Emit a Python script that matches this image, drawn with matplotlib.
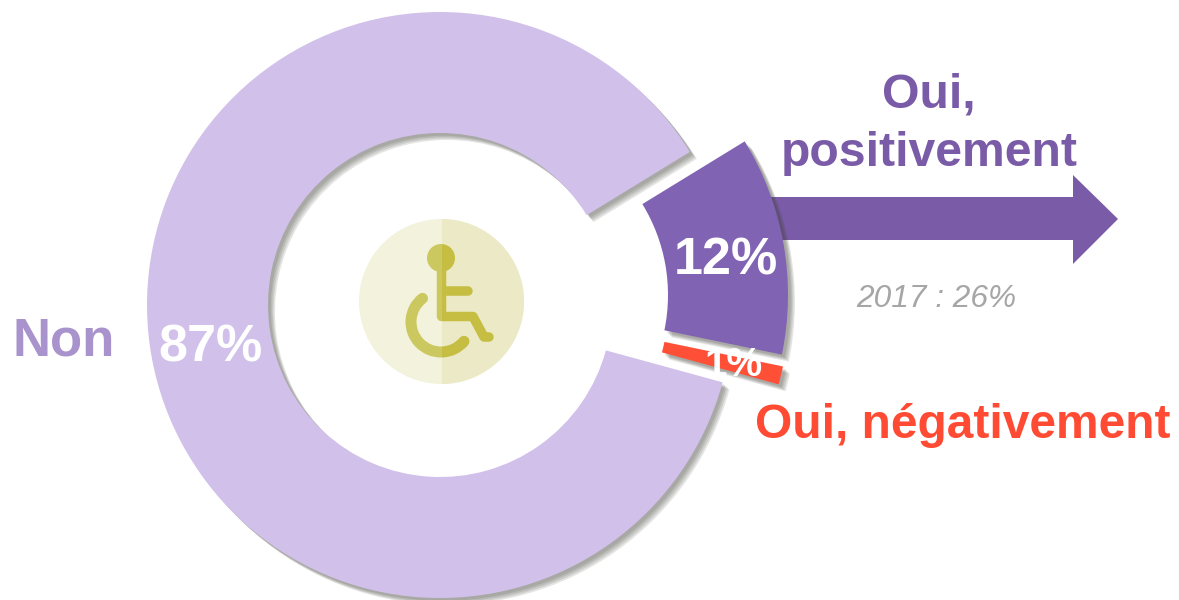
import matplotlib
matplotlib.use("Agg")
import matplotlib.pyplot as plt
import matplotlib.patheffects as pe
from matplotlib.patches import Wedge, Circle, Polygon, Rectangle, Arc

plt.rcParams['font.family'] = ['Liberation Sans', 'DejaVu Sans']

# donut values, in percent
labels = ["Non", "Oui, négativement", "Oui, positivement"]
shares = [87, 1, 12]
share_text = ["87%", "1%", "12%"]
colors = ["#d1c1ea", "#ff4f36", "#8163b3"]
note = "2017 : 26%"

# slices are pulled apart, so each has its own centre
centers = [(440, 305), (496, 307), (494, 295)]
r_outer = [293, 293, 294]
r_inner = [172, 172, 174]
start_angle = 31.5

fig = plt.figure(figsize=(11.79, 6.0), dpi=100)
ax = fig.add_axes([0, 0, 1, 1])
ax.set_xlim(0, 1179)
ax.set_ylim(600, 0)
ax.axis("off")


def soft_shadow():
    return [pe.SimplePatchShadow(offset=(o, -o), shadow_rgbFace="#44443a", alpha=0.14) for o in (5, 4, 3, 2)] + [pe.Normal()]


# arrow behind the purple slice
arrow = Polygon([(760, 197), (1073, 197), (1073, 175), (1118, 219), (1073, 264), (1073, 240), (760, 240)],
                closed=True, fc="#7a5ba8", ec="none", zorder=1)
ax.add_patch(arrow)

# the y axis is flipped, so angles run clockwise on screen: go from the top end of the big slice round
angle = start_angle
for i in range(len(shares)):
    span = shares[i] * 3.6
    # theta are negated because of the flipped y axis
    w = Wedge(centers[i], r_outer[i], -(angle + span), -angle, width=r_outer[i] - r_inner[i],
              fc=colors[i], ec="none", zorder=2)
    w.set_path_effects(soft_shadow())
    ax.add_patch(w)
    angle += span

# icon
icon_left = "#f3f2dc"
icon_right = "#ece9c6"
man_left = "#ccc860"
man_right = "#c5be42"
cx, cy = 441.5, 301.5
disc = Circle((cx, cy), 82.5, fc=icon_left, ec="none", zorder=3)
ax.add_patch(disc)
half = Rectangle((cx, cy - 83), 83, 166, fc=icon_right, ec="none", zorder=3)
ax.add_patch(half)
half.set_clip_path(disc)

lw = 9.5 * 0.72
for col, box in ((man_left, (cx - 60, 230, 60, 140)), (man_right, (cx, 230, 70, 140))):
    clip = Rectangle(box[:2], box[2], box[3], transform=ax.transData)
    head = Circle((441, 258), 14, fc=col, ec="none", zorder=4)
    ax.add_patch(head)
    head.set_clip_path(clip)
    wheel = Arc((441, 322), 60, 60, theta1=40, theta2=232, ec=col, lw=11 * 0.72, capstyle="round", zorder=4)
    ax.add_patch(wheel)
    wheel.set_clip_path(clip)
    for xs, ys in (([441.5, 441.5, 473, 484, 489], [258, 316.5, 316.5, 337, 337]), ([441.5, 467.5], [291, 291])):
        line, = ax.plot(xs, ys, color=col, lw=lw, solid_capstyle="round", solid_joinstyle="round", zorder=4)
        line.set_clip_path(clip)

# texts
ax.text(210, 348, share_text[0], color="white", fontsize=37.5, fontweight="bold", ha="center", va="center", zorder=5)
ax.text(726, 261, share_text[2], color="white", fontsize=37.5, fontweight="bold", ha="center", va="center", zorder=5)
ax.text(734, 365, share_text[1], color="white", fontsize=29, fontweight="bold", ha="center", va="center", zorder=5)
ax.text(63.5, 342, labels[0], color="#a893cc", fontsize=38, fontweight="bold", ha="center", va="center")
ax.text(929, 95, "Oui,", color="#7a5ba8", fontsize=34.7, fontweight="bold", ha="center", va="center")
ax.text(929, 153, "positivement", color="#7a5ba8", fontsize=34.7, fontweight="bold", ha="center", va="center")
ax.text(962.5, 426, labels[1], color="#ff4b33", fontsize=34.5, fontweight="bold", ha="center", va="center")
ax.text(936, 299, note, color="#a6a6a6", fontsize=22.8, style="italic", ha="center", va="center")

fig.savefig("out.png", dpi=100)
